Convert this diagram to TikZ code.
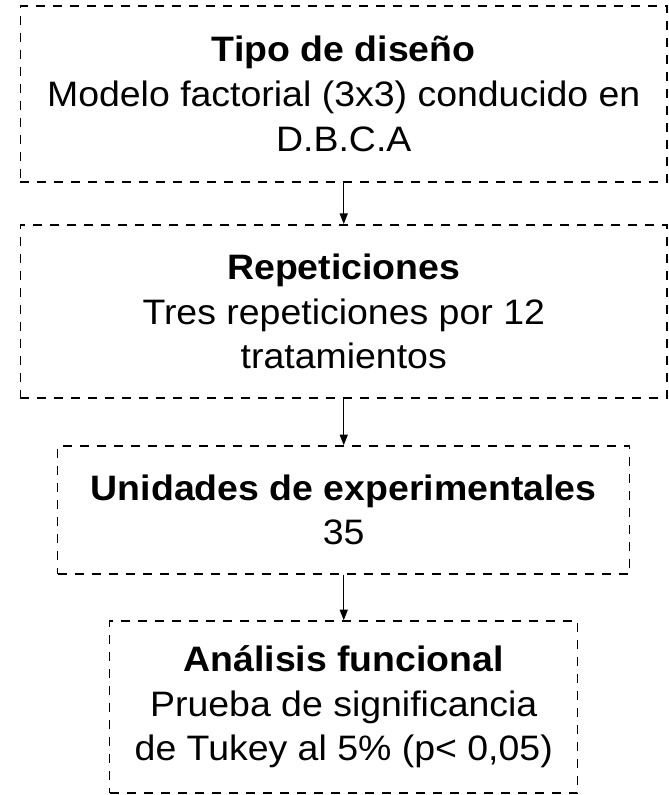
\documentclass[tikz,border=0pt]{standalone}
\usepackage{fontspec}
\setmainfont{Liberation Sans}[FakeStretch = 1.06]
\usetikzlibrary{arrows.meta}

\tikzset{
  caja/.style = {draw, line width = 1.1pt, dash pattern = on 6.75pt off 6pt,
                 align = center, inner sep = 0pt,
                 font = \fontsize{26.5pt}{33.5pt}\selectfont},
  flecha/.style = {line width = 1.1pt, -{Triangle[length = 8pt, width = 6pt]}}
}

\begin{document}
\begin{tikzpicture} [x = 0.75pt, y = -0.75pt]
\useasboundingbox (0.0, 0.0) rectangle (668.0, 795.0);
\node[caja, minimum width = 485pt, minimum height = 132pt] (tipo) at (343.75, 94.0)
  {\textbf{Tipo de diseño}\\Modelo factorial (3x3) conducido en\\D.B.C.A};
\node[caja, minimum width = 485pt, minimum height = 130pt] (rep) at (343.75, 311.5)
  {\textbf{Repeticiones}\\Tres repeticiones por 12\\tratamientos};
\node[caja, minimum width = 429pt, minimum height = 96pt] (unid) at (343.75, 510.0)
  {\textbf{Unidades de experimentales}\\35};
\node[caja, minimum width = 351pt, minimum height = 129pt] (anal) at (343.75, 707.0)
  {\textbf{Análisis funcional}\\Prueba de significancia\\de Tukey al 5\% (p< 0,05)};
\draw[flecha] (tipo.south) -- (rep.north);
\draw[flecha] (rep.south) -- (unid.north);
\draw[flecha] (unid.south) -- (anal.north);
\end{tikzpicture}
\end{document}
